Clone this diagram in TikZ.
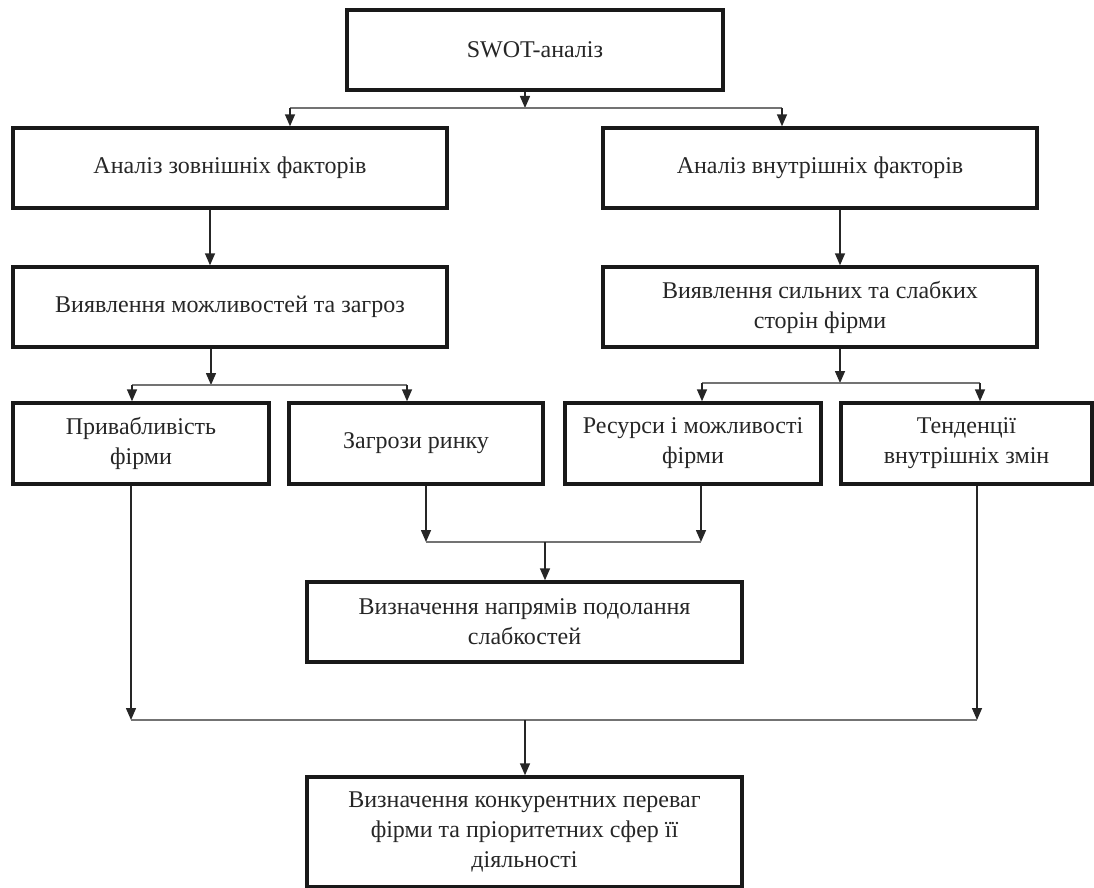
\documentclass[tikz,border=0pt]{standalone}
\usepackage{fontspec}
\setmainfont{Liberation Serif}
\usetikzlibrary{arrows.meta,positioning,calc}

\begin{document}
\begin{tikzpicture}[x=1pt,y=-1pt,>={Triangle[length=12pt,width=10pt]}]
  \tikzset{block/.style={draw=black!90,line width=3.4pt,align=center,text=black!85,font=\fontsize{24}{30}\selectfont,inner sep=2pt},
    wide/.style={block,minimum width=434pt,minimum height=80pt},
    small/.style={block,minimum height=81pt},
    link/.style={->,line width=1.5pt,draw=black!85},
    bus/.style={line width=1.4pt,draw=black!55}}
  \useasboundingbox (0,0) rectangle (1094,888);
  \node[block,minimum width=376pt,minimum height=80pt] (swot) at (535,50) {SWOT-аналіз};
  \node[wide] (ext) at (230,168) {Аналіз зовнішніх факторів};
  \node[wide] (int) at (820,168) {Аналіз внутрішніх факторів};
  \node[wide] (opp) at (230,307) {Виявлення можливостей та загроз};
  \node[wide] (str) at (820,307) {Виявлення сильних та слабких\\сторін фірми};
  \node[small,minimum width=256pt] (attr) at (141,443.5) {Привабливість\\фірми};
  \node[small,minimum width=254pt] (thr) at (416,443.5) {Загрози ринку};
  \node[small,minimum width=256pt] (res) at (693,443.5) {Ресурси і можливості\\фірми};
  \node[small,minimum width=251pt] (trend) at (966.5,443.5) {Тенденції\\внутрішніх змін};
  \node[block,minimum width=435pt,minimum height=80pt] (weak) at (524.5,622) {Визначення напрямів подолання\\слабкостей};
  \node[block,minimum width=435pt,minimum height=110pt] (comp) at (524.5,832) {Визначення конкурентних переваг\\фірми та пріоритетних сфер її\\діяльності};
  \coordinate (s1) at (525,108);
  \coordinate (s1l) at (290,108);
  \coordinate (s1r) at (782,108);
  \draw[link] (swot.south -| s1) -- (s1);
  \draw[bus] (s1l) -- (s1r);
  \draw[link] (s1l) -- (s1l |- ext.north);
  \draw[link] (s1r) -- (s1r |- int.north);
  \draw[link] ($(ext.south)+(-20,0)$) -- ($(opp.north)+(-20,0)$);
  \draw[link] ($(int.south)+(20,0)$) -- ($(str.north)+(20,0)$);
  \coordinate (s2) at (211,385);
  \coordinate (s2l) at (132,385);
  \coordinate (s2r) at (407,385);
  \draw[link] (opp.south -| s2) -- (s2);
  \draw[bus] (s2l) -- (s2r);
  \draw[link] (s2l) -- (s2l |- attr.north);
  \draw[link] (s2r) -- (s2r |- thr.north);
  \coordinate (s3) at (840,383);
  \coordinate (s3l) at (702,383);
  \coordinate (s3r) at (980,383);
  \draw[link] (str.south -| s3) -- (s3);
  \draw[bus] (s3l) -- (s3r);
  \draw[link] (s3l) -- (s3l |- res.north);
  \draw[link] (s3r) -- (s3r |- trend.north);
  \coordinate (j1) at (545,542);
  \coordinate (j1l) at (426,542);
  \coordinate (j1r) at (701,542);
  \draw[link] (thr.south -| j1l) -- (j1l);
  \draw[link] (res.south -| j1r) -- (j1r);
  \draw[bus] (j1l) -- (j1r);
  \draw[link] (j1) -- (j1 |- weak.north);
  \coordinate (j2) at (525,720);
  \coordinate (j2l) at (131,720);
  \coordinate (j2r) at (977,720);
  \draw[link] (attr.south -| j2l) -- (j2l);
  \draw[link] (trend.south -| j2r) -- (j2r);
  \draw[bus] (j2l) -- (j2r);
  \draw[link] (j2) -- (j2 |- comp.north);
\end{tikzpicture}
\end{document}
